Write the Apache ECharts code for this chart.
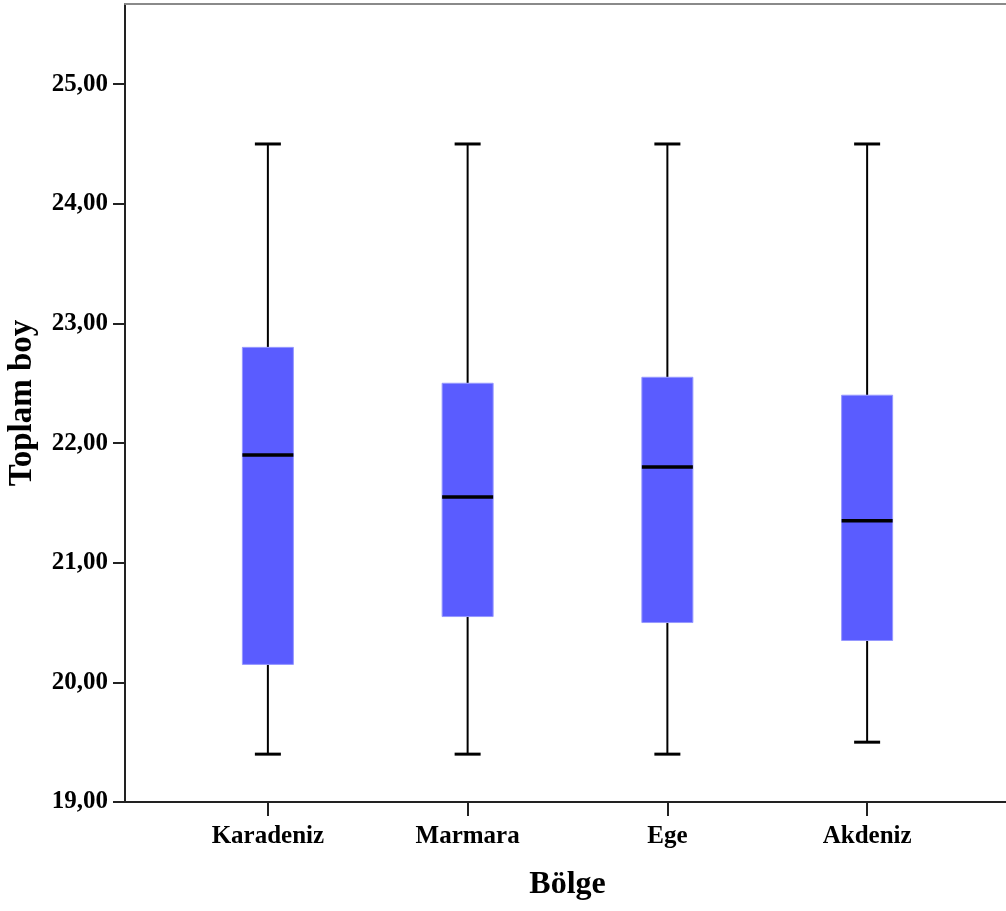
<!DOCTYPE html>
<html>
<head>
<meta charset="utf-8">
<script src="https://cdn.jsdelivr.net/npm/echarts@6/dist/echarts.min.js"></script>
<style>
html,body{margin:0;padding:0;background:#fff;}
#chart{width:1006px;height:911px;}
</style>
</head>
<body>
<div id="chart"></div>
<script>
// ---- data ----
const regions = ['Karadeniz', 'Marmara', 'Ege', 'Akdeniz'];
const whiskerLow  = [19.40, 19.40, 19.40, 19.50];
const quartile1   = [20.15, 20.55, 20.50, 20.35];
const medians     = [21.90, 21.55, 21.80, 21.35];
const quartile3   = [22.80, 22.50, 22.55, 22.40];
const whiskerHigh = [24.50, 24.50, 24.50, 24.50];
const yTicks = [19, 20, 21, 22, 23, 24, 25];
const yMin = 19, yMax = 25.67;

const boxData = regions.map((r, i) => [i, whiskerLow[i], quartile1[i], medians[i], quartile3[i], whiskerHigh[i]]);

const FONT = 'Liberation Serif';
const chart = echarts.init(document.getElementById('chart'), null, {renderer: 'canvas'});

function renderBox(params, api) {
  const x = api.value(0);
  const pMin = api.coord([x, api.value(1)]);
  const pQ1 = api.coord([x, api.value(2)]);
  const pMed = api.coord([x, api.value(3)]);
  const pQ3 = api.coord([x, api.value(4)]);
  const pMax = api.coord([x, api.value(5)]);
  const cx = pMed[0];
  const hb = 25.5, hc = 13;
  const black = {stroke: '#000', lineWidth: 2};
  return {
    type: 'group',
    children: [
      {type: 'line', shape: {x1: cx, y1: pMin[1], x2: cx, y2: pQ1[1]}, style: black},
      {type: 'line', shape: {x1: cx, y1: pQ3[1], x2: cx, y2: pMax[1]}, style: black},
      {type: 'line', shape: {x1: cx - hc, y1: pMin[1], x2: cx + hc, y2: pMin[1]}, style: {stroke: '#000', lineWidth: 3}},
      {type: 'line', shape: {x1: cx - hc, y1: pMax[1], x2: cx + hc, y2: pMax[1]}, style: {stroke: '#000', lineWidth: 3}},
      {type: 'rect', shape: {x: cx - hb, y: pQ3[1], width: hb * 2, height: pQ1[1] - pQ3[1]},
        style: {fill: '#5a5cff', stroke: '#9698ff', lineWidth: 1}},
      {type: 'line', shape: {x1: cx - hb, y1: pMed[1], x2: cx + hb, y2: pMed[1]}, style: {stroke: '#000', lineWidth: 3.5}}
    ]
  };
}

chart.setOption({
  backgroundColor: '#fff',
  animation: false,
  grid: [
    {left: 168, right: 39, top: 4, bottom: 109, outerBoundsMode: 'none', containLabel: false},
    {left: 125, right: 0, top: 4, bottom: 109, outerBoundsMode: 'none', containLabel: false}
  ],
  xAxis: [
    {
      gridIndex: 0, type: 'category', data: regions, position: 'bottom',
      axisLine: {show: false},
      axisTick: {show: true, alignWithLabel: true, length: 14, lineStyle: {color: '#222', width: 2}},
      axisLabel: {margin: 22, color: '#000', fontFamily: FONT, fontWeight: 'bold', fontSize: 25},
      splitLine: {show: false},
      name: 'Bölge', nameLocation: 'middle', nameGap: 67,
      nameTextStyle: {color: '#000', fontFamily: FONT, fontWeight: 'bold', fontSize: 32}
    },
    {
      gridIndex: 1, type: 'value', min: 0, max: 1, position: 'bottom',
      axisLine: {show: true, onZero: false, lineStyle: {color: '#222', width: 2}},
      axisTick: {show: false}, axisLabel: {show: false}, splitLine: {show: false}
    },
    {
      gridIndex: 1, type: 'value', min: 0, max: 1, position: 'top',
      axisLine: {show: true, onZero: false, lineStyle: {color: '#8a8a8a', width: 2}},
      axisTick: {show: false}, axisLabel: {show: false}, splitLine: {show: false}
    }
  ],
  yAxis: [
    {gridIndex: 0, type: 'value', min: yMin, max: yMax, show: false, splitLine: {show: false}},
    {
      gridIndex: 1, type: 'value', min: yMin, max: yMax, interval: 1,
      axisLine: {show: true, onZero: false, lineStyle: {color: '#222', width: 2}},
      axisTick: {show: true, length: 12, customValues: yTicks, lineStyle: {color: '#222', width: 2}},
      axisLabel: {
        customValues: yTicks, margin: 17, color: '#000', fontFamily: FONT, fontWeight: 'bold', fontSize: 25,
        formatter: v => v.toFixed(2).replace('.', ',')
      },
      splitLine: {show: false},
      name: 'Toplam boy', nameLocation: 'middle', nameGap: 86,
      nameTextStyle: {color: '#000', fontFamily: FONT, fontWeight: 'bold', fontSize: 33}
    }
  ],
  series: [{
    type: 'custom',
    xAxisIndex: 0, yAxisIndex: 0,
    renderItem: renderBox,
    encode: {x: 0, y: [1, 2, 3, 4, 5]},
    data: boxData,
    clip: false
  }]
});
</script>
</body>
</html>
